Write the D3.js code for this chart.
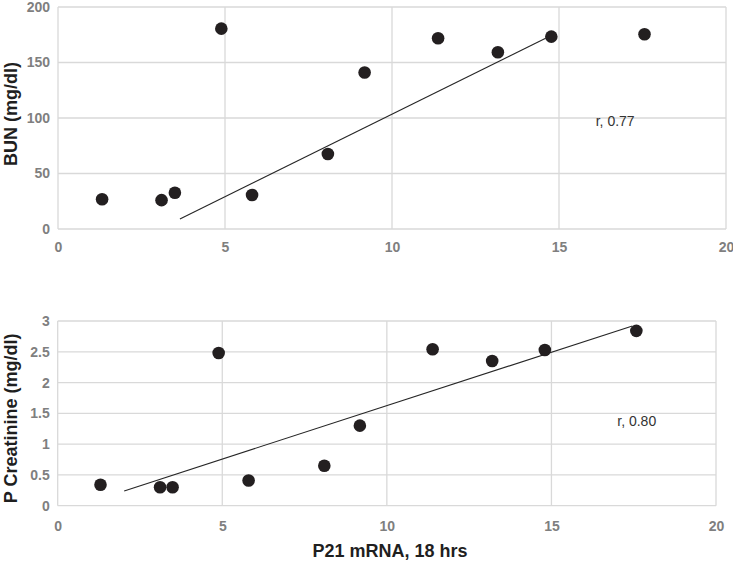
<!DOCTYPE html>
<html>
<head>
<meta charset="utf-8">
<script src="https://cdn.jsdelivr.net/npm/d3@7"></script>
<style>
  html, body { margin: 0; padding: 0; background: #fff; }
  svg { display: block; font-family: "Liberation Sans", Arial, Helvetica, sans-serif; }
  .tick text { font-family: "Liberation Sans", Arial, sans-serif; font-size: 14px; font-weight: bold; fill: #7f7f7f; }
</style>
</head>
<body>
<svg id="chart" width="733" height="565"></svg>
<script>
// ---- data ----
const p21mRNA   = [1.32, 3.10, 3.50, 4.89, 5.81, 8.08, 9.18, 11.38, 13.17, 14.77, 17.56];
const bunValues = [26.8, 26.0, 32.7, 180.5, 30.6, 67.6, 141.0, 171.8, 159.2, 173.3, 175.4];
const creatX    = [1.30, 3.11, 3.49, 4.89, 5.80, 8.10, 9.18, 11.39, 13.20, 14.80, 17.58];
const creatValues = [0.34, 0.30, 0.30, 2.48, 0.41, 0.65, 1.30, 2.54, 2.35, 2.53, 2.84];

const bunTrendX = [3.65, 14.6];
const bunTrendY = [9, 171.8];
const creatTrendX = [2.02, 17.46];
const creatTrendY = [0.24, 2.92];

const xTicks = [0, 5, 10, 15, 20];
const bunTicks = [0, 50, 100, 150, 200];
const creatTicks = [0, 0.5, 1, 1.5, 2, 2.5, 3];

const bunLabel = "BUN (mg/dl)";
const creatLabel = "P Creatinine (mg/dl)";
const xLabel = "P21 mRNA, 18 hrs";
const bunR = { x: 16.1, y: 96.5, text: "r, 0.77" };
const creatR = { x: 17.0, y: 1.36, text: "r, 0.80" };

// ---- drawing ----
const svg = d3.select("#chart");
const gridColor = "#d9d9d9";

function panel(opts) {
  const x = d3.scaleLinear().domain([0, 20]).range(opts.xr);
  const y = d3.scaleLinear().domain(opts.yd).range(opts.yr);
  const g = svg.append("g");

  // gridlines
  g.append("g").selectAll("line.h").data(opts.yTicks).join("line")
    .attr("x1", x(0)).attr("x2", x(20))
    .attr("y1", d => y(d)).attr("y2", d => y(d))
    .attr("stroke", gridColor).attr("stroke-width", 1.3);
  g.append("g").selectAll("line.v").data(xTicks).join("line")
    .attr("y1", y(opts.yd[0])).attr("y2", y(opts.yd[1]))
    .attr("x1", d => x(d)).attr("x2", d => x(d))
    .attr("stroke", gridColor).attr("stroke-width", 1.3);

  // axes (tick labels via d3 axes)
  const xAxis = d3.axisBottom(x).tickValues(xTicks).tickSize(0).tickPadding(opts.xPad).tickFormat(d3.format("d"));
  const yAxis = d3.axisLeft(y).tickValues(opts.yTicks).tickSize(0).tickPadding(8).tickFormat(d => String(d));
  const xa = g.append("g").attr("transform", `translate(0,${y(opts.yd[0])})`).call(xAxis);
  const ya = g.append("g").attr("transform", `translate(${x(0)},0)`).call(yAxis);
  [xa, ya].forEach(a => {
    a.select(".domain").remove();
    a.attr("font-size", null).attr("font-family", null);
  });

  // trend line
  g.append("line")
    .attr("x1", x(opts.tx[0])).attr("y1", y(opts.ty[0]))
    .attr("x2", x(opts.tx[1])).attr("y2", y(opts.ty[1]))
    .attr("stroke", "#262626").attr("stroke-width", 1.1);

  // points
  g.append("g").selectAll("circle").data(opts.xs).join("circle")
    .attr("cx", d => x(d)).attr("cy", (d, i) => y(opts.ys[i]))
    .attr("r", 6.3).attr("fill", "#231f20");

  // r annotation
  g.append("text").attr("x", x(opts.r.x)).attr("y", y(opts.r.y))
    .attr("dominant-baseline", "middle")
    .style("font-size", "14px").attr("fill", "#333")
    .text(opts.r.text);

  // y title
  const yc = (y(opts.yd[0]) + y(opts.yd[1])) / 2 + opts.yTitleShift;
  g.append("text").attr("transform", `translate(${opts.yTitleX},${yc}) rotate(-90)`)
    .attr("text-anchor", "middle").style("font-size", "18px").style("font-weight", "bold")
    .attr("fill", "#1f1f1f").text(opts.yLabel);
  return { x, y };
}

panel({
  xr: [58, 726], yd: [0, 200], yr: [229, 7], yTicks: bunTicks, xPad: 13,
  xs: p21mRNA, ys: bunValues, tx: bunTrendX, ty: bunTrendY, r: bunR,
  yLabel: bunLabel, yTitleX: 17, yTitleShift: -4
});
panel({
  xr: [57.7, 716], yd: [0, 3], yr: [505.7, 321], yTicks: creatTicks, xPad: 15,
  xs: creatX, ys: creatValues, tx: creatTrendX, ty: creatTrendY, r: creatR,
  yLabel: creatLabel, yTitleX: 17, yTitleShift: 5
});

svg.append("text").attr("x", 390).attr("y", 557).attr("text-anchor", "middle")
  .style("font-size", "18px").style("font-weight", "bold").attr("fill", "#1f1f1f").text(xLabel);
</script>
</body>
</html>
